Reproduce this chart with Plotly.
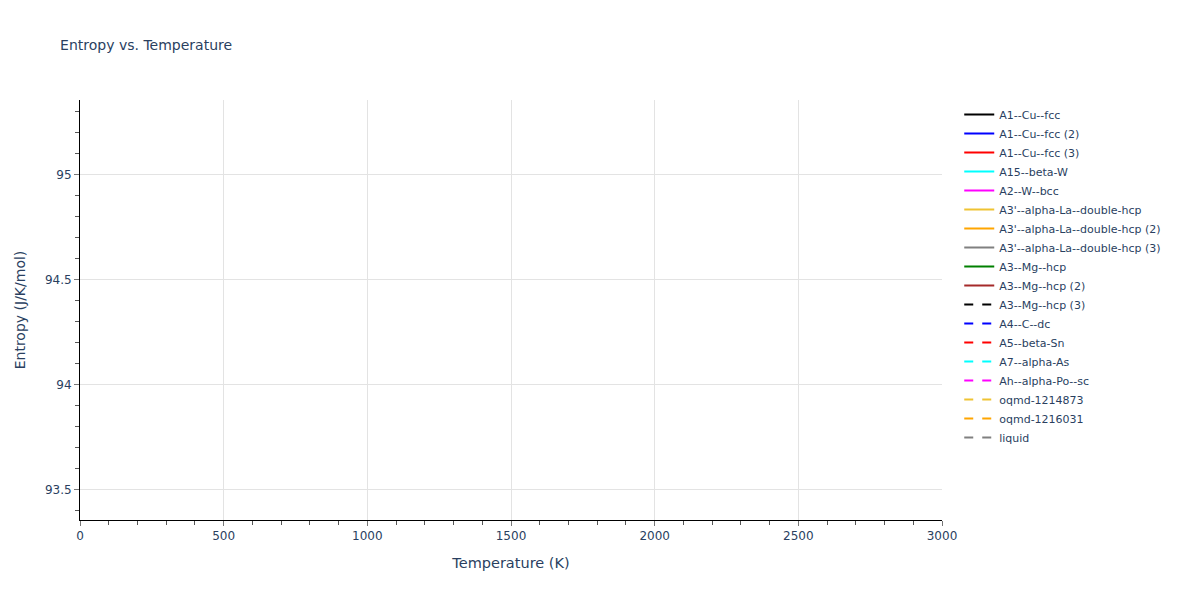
import plotly.graph_objects as go

# phase names as shown in the legend
PHASES = [
    "A1--Cu--fcc", "A1--Cu--fcc (2)", "A1--Cu--fcc (3)", "A15--beta-W",
    "A2--W--bcc", "A3'--alpha-La--double-hcp", "A3'--alpha-La--double-hcp (2)",
    "A3'--alpha-La--double-hcp (3)", "A3--Mg--hcp", "A3--Mg--hcp (2)",
    "A3--Mg--hcp (3)", "A4--C--dc", "A5--beta-Sn", "A7--alpha-As",
    "Ah--alpha-Po--sc", "oqmd-1214873", "oqmd-1216031", "liquid",
]
COLORS = [
    "black", "blue", "red", "cyan", "magenta", "#EFC333", "orange", "grey",
    "green", "brown",
    "black", "blue", "red", "cyan", "magenta", "#EFC333", "orange", "grey",
]
DASHES = ["solid"] * 10 + ["dash"] * 8

# nothing falls inside the visible window, so every series is blank
temperature = {p: [None] for p in PHASES}
entropy = {p: [None] for p in PHASES}

fig = go.Figure()
for name, col, dash in zip(PHASES, COLORS, DASHES):
    fig.add_trace(go.Scatter(
        x=temperature[name], y=entropy[name],
        mode="lines", name=name, showlegend=True,
        line=dict(color=col, width=2, dash=dash),
    ))

axis_style = dict(
    showline=True, linecolor="black", linewidth=1,
    ticks="outside", tickcolor="#777", ticklen=5,
    gridcolor="#e3e3e3", zeroline=False,
    tickfont=dict(size=12),
    minor=dict(ticks="outside", ticklen=4, tickcolor="#555", showgrid=False),
)

# page body has an 8px margin, so the figure is offset; margins compensate
fig.update_layout(
    title=dict(text="Entropy vs. Temperature", x=0.044, y=0.937,
               yanchor="middle", font=dict(size=14)),
    template="plotly_white",
    font=dict(family="DejaVu Sans", color="#2a3f5f"),
    margin=dict(l=72, r=250, t=92, b=72),
    xaxis=dict(title=dict(text="Temperature (K)", font=dict(size=14.5)),
               range=[0, 3000], dtick=500, **axis_style),
    yaxis=dict(title=dict(text="Entropy (J/K/mol)", font=dict(size=14)),
               range=[93.357, 95.357], dtick=0.5, **axis_style),
    legend=dict(font=dict(size=11), x=1.02),
    showlegend=True,
)
fig.update_xaxes(minor_dtick=100)
fig.update_yaxes(minor_dtick=0.1)

fig.write_html("out.html")
